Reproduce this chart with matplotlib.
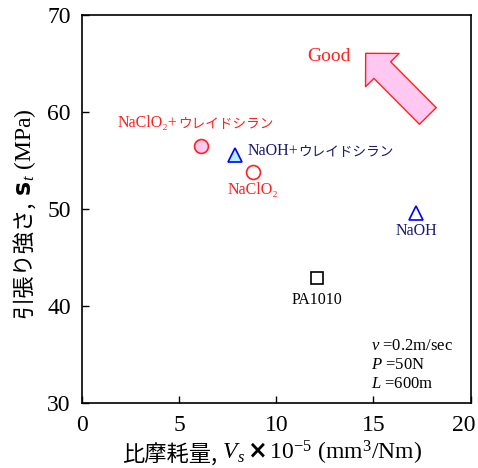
import matplotlib
matplotlib.use('Agg')
import matplotlib.pyplot as plt
import matplotlib.transforms as mtransforms

# データ (比摩耗量 x10^-5 mm3/Nm, 引張り強さ MPa)
labels = ['NaClO₂+', 'NaOH+', 'NaClO₂', 'NaOH', 'PA1010']
labels_kana = ['ウレイドシラン', 'ウレイドシラン', '', '', '']
wear = [6.1, 7.9, 8.8, 17.2, 12.1]
strength = [56.5, 55.6, 53.8, 49.6, 42.9]
markers = ['o', '^', 'o', '^', 's']
edge_colors = ['#ff2020', '#0000ff', '#ff2020', '#0000ff', '#000000']
face_colors = ['#ffc8f0', '#b0f0ff', 'none', 'none', 'none']
text_colors = ['#ff2020', '#1a1a70', '#ff2020', '#1a1a70', '#000000']
# ラベル位置 (データ座標)
label_x = [1.85, 8.5, 8.8, 17.2, 12.1]
label_y = [58.9, 56.0, 52.0, 47.8, 40.65]
label_ha = ['left', 'left', 'center', 'center', 'center']

x_ticks = [0, 5, 10, 15, 20]
y_ticks = [30, 40, 50, 60, 70]
conditions = ['$v$ =0.2m/sec', '$P$ =50N', '$L$ =600m']

SERIF = ['Liberation Serif', 'DejaVu Serif']
MIXED = ['Liberation Serif', 'Noto Sans CJK JP', 'DejaVu Serif']
CJK = ['Noto Sans CJK JP', 'DejaVu Sans']

plt.rcParams['mathtext.fontset'] = 'custom'
plt.rcParams['mathtext.rm'] = 'Liberation Serif'
plt.rcParams['mathtext.it'] = 'Liberation Serif:italic'
plt.rcParams['mathtext.bf'] = 'DejaVu Sans:bold'

fig = plt.figure(figsize=(4.78, 4.68), dpi=100)
ax = fig.add_axes([0.1715, 0.138, 0.813, 0.83])

for i in range(len(labels)):
    ax.plot(wear[i], strength[i], marker=markers[i], markersize=10 if markers[i] != 's' else 9,
            markerfacecolor=face_colors[i], markeredgecolor=edge_colors[i],
            markeredgewidth=1.2, linestyle='none')
    t = ax.text(label_x[i], label_y[i], labels[i], color=text_colors[i], fontsize=11.5,
                family=MIXED, ha=label_ha[i], va='center')
    if labels_kana[i]:
        # カタカナ部分は小さめのゴシック
        ax.annotate(labels_kana[i], xy=(1, 0.5), xycoords=t, color=text_colors[i],
                    fontsize=9.8, family=CJK, ha='left', va='center')

ax.set_xlim(0, 20)
ax.set_ylim(30, 70)
ax.set_xticks(x_ticks)
ax.set_yticks(y_ticks)
ax.tick_params(direction='in', length=5, width=1, labelsize=17, pad=8)
for lab in ax.get_xticklabels() + ax.get_yticklabels():
    lab.set_family(SERIF)
# 右端の "20" が切れないよう少し左へ
last = ax.get_xticklabels()[-1]
last.set_transform(last.get_transform() + mtransforms.ScaledTranslation(-5 / 72, 0, fig.dpi_scale_trans))
for sp in ax.spines.values():
    sp.set_linewidth(1.2)

# Good 矢印
ax.text(12.7, 65.7, 'Good', color='#ff2020', fontsize=14, family=SERIF, ha='center', va='center')
ax.annotate('', xy=(14.6, 66.05), xytext=(17.8, 59.6),
            arrowprops=dict(arrowstyle='simple,head_length=1.7,head_width=3.4,tail_width=1.7',
                            fc='#ffc8f0', ec='#ff2020', lw=1.0, shrinkA=0, shrinkB=0,
                            mutation_scale=10))

# 試験条件
for j, c in enumerate(conditions):
    ax.text(14.9, 35.9 - j * 1.95, c, fontsize=12, family=SERIF, ha='left', va='center')

# x軸ラベル
xl1 = fig.text(0.255, 0.003, '比摩耗量,', family=CJK, fontsize=16, ha='left', va='bottom')
ax.annotate(r' $V_s\,\mathbf{\times}\,$10$^{-5}$ (mm$^3$/Nm)', xy=(1, 0), xycoords=xl1,
            family=SERIF, fontsize=17, ha='left', va='bottom', annotation_clip=False)

# y軸ラベル
yl1 = fig.text(0.052, 0.32, '引張り強さ,', family=CJK, fontsize=16, rotation=90,
               ha='center', va='bottom')
ax.annotate(r' $\mathbf{s}_{t}$ (MPa)', xy=(0.5, 1), xycoords=yl1, family=SERIF,
            fontsize=17, rotation=90, ha='center', va='bottom', annotation_clip=False)

plt.savefig('out.png', dpi=100)
plt.close()
